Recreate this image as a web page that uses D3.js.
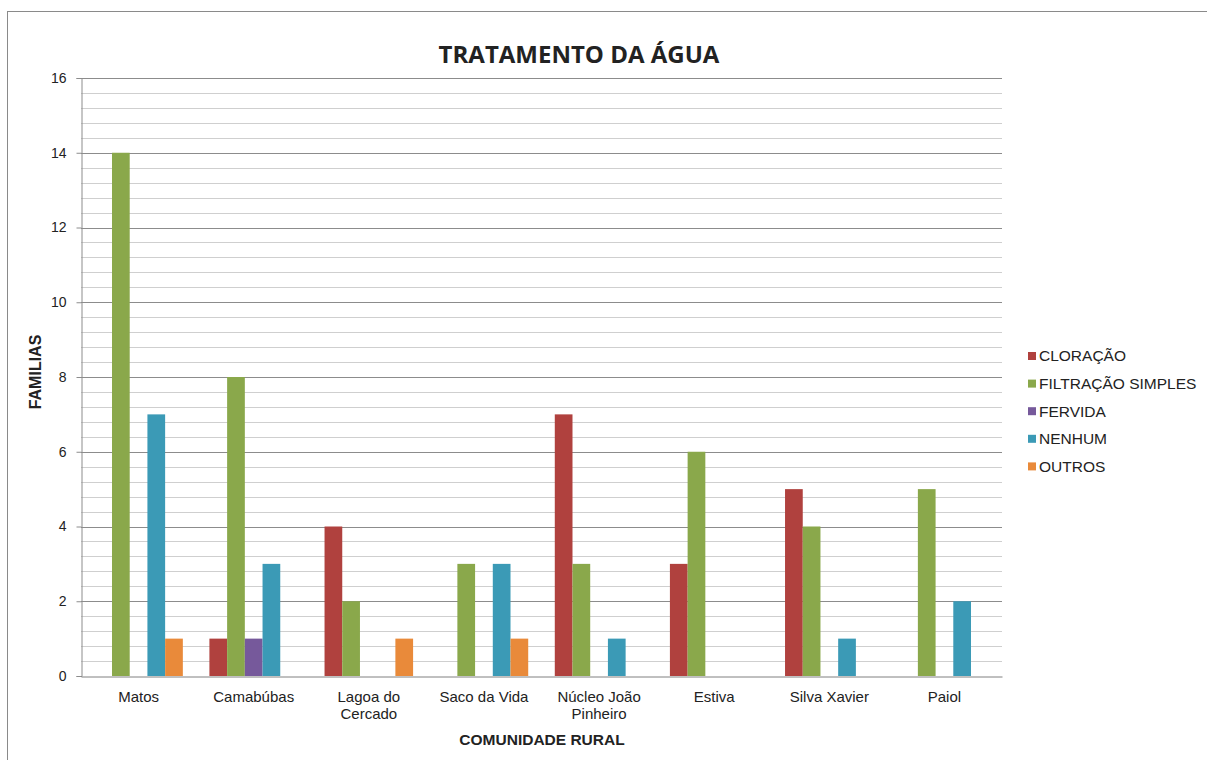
<!DOCTYPE html>
<html>
<head>
<meta charset="utf-8">
<script src="https://cdn.jsdelivr.net/npm/d3@7"></script>
<style>
  html, body { margin: 0; padding: 0; background: #fff; }
  svg { display: block; }
  text { font-family: "Liberation Sans", Arial, sans-serif; fill: #222; }
</style>
</head>
<body>
<svg id="chart" width="1207" height="760"></svg>
<script>
// Communities surveyed (x axis)
const categories = ["Matos", "Camabúbas", "Lagoa do Cercado", "Saco da Vida",
                    "Núcleo João Pinheiro", "Estiva", "Silva Xavier", "Paiol"];

// Water treatment methods (series)
const seriesNames = ["CLORAÇÃO", "FILTRAÇÃO SIMPLES", "FERVIDA", "NENHUM", "OUTROS"];
const seriesColors = ["#b0413e", "#8aa84b", "#76599b", "#3b9ab6", "#e98a3a"];

// Number of families per community, one array per method
const cloracao   = [0, 1, 4, 0, 7, 3, 5, 0];
const filtracao  = [14, 8, 2, 3, 3, 6, 4, 5];
const fervida    = [0, 1, 0, 0, 0, 0, 0, 0];
const nenhum     = [7, 3, 0, 3, 1, 0, 1, 2];
const outros     = [1, 0, 1, 1, 0, 0, 0, 0];
const seriesValues = [cloracao, filtracao, fervida, nenhum, outros];

const yTicks = [0, 2, 4, 6, 8, 10, 12, 14, 16];

const svg = d3.select("#chart");
const W = 1207, H = 760;
const plot = { left: 81, right: 1002, top: 78, bottom: 676 };

// outer frame
svg.append("rect")
  .attr("x", 7.5).attr("y", 11.5)
  .attr("width", W + 10).attr("height", H + 10)
  .attr("fill", "#fff").attr("stroke", "#8a8a8a").attr("stroke-width", 1);

const x0 = d3.scaleBand().domain(categories)
  .range([plot.left, plot.right]).paddingInner(0).paddingOuter(0);
// Bars occupy 5/6.5 of each band, centered
const barW = x0.bandwidth() / 6.5;
const x1 = d3.scaleBand().domain(seriesNames)
  .range([0, barW * 5]).padding(0);
const groupOffset = (x0.bandwidth() - barW * 5) / 2;

const y = d3.scaleLinear().domain([0, 16]).range([plot.bottom, plot.top]);

// minor gridlines every 0.4
const minor = d3.range(0, 16.0001, 0.4).filter(v => Math.abs(v / 2 - Math.round(v / 2)) > 1e-6);
svg.append("g").selectAll("line").data(minor).join("line")
  .attr("x1", plot.left).attr("x2", plot.right)
  .attr("y1", d => Math.round(y(d)) + 0.5).attr("y2", d => Math.round(y(d)) + 0.5)
  .attr("stroke", "#cfcfcf").attr("stroke-width", 1);

// major gridlines
svg.append("g").selectAll("line").data(yTicks.filter(d => d > 0)).join("line")
  .attr("x1", plot.left).attr("x2", plot.right)
  .attr("y1", d => Math.round(y(d)) + 0.5).attr("y2", d => Math.round(y(d)) + 0.5)
  .attr("stroke", "#8c8c8c").attr("stroke-width", 1);

// y axis
const yAxis = d3.axisLeft(y).tickValues(yTicks).tickSize(5).tickPadding(10).tickFormat(d3.format("d"));
const gy = svg.append("g").attr("transform", `translate(${plot.left + 0.5},0)`).call(yAxis);
gy.select(".domain").attr("stroke", "#8c8c8c");
gy.selectAll(".tick line").attr("stroke", "#8c8c8c");
gy.selectAll(".tick text").style("font-size", "14px").attr("fill", "#222")
  .style("font-family", "'Liberation Sans', Arial, sans-serif");

// bars
const groups = svg.append("g").selectAll("g").data(categories).join("g")
  .attr("transform", d => `translate(${x0(d) + groupOffset},0)`);
groups.selectAll("rect")
  .data((c, i) => seriesNames.map((s, j) => ({ s, j, v: seriesValues[j][i] })))
  .join("rect")
  .attr("x", d => x1(d.s))
  .attr("width", x1.bandwidth())
  .attr("y", d => y(d.v))
  .attr("height", d => y(0) - y(d.v))
  .attr("fill", d => seriesColors[d.j]);

// x axis
const xAxis = d3.axisBottom(x0).tickSize(0).tickPadding(15);
const gx = svg.append("g").attr("transform", `translate(0,${plot.bottom + 0.5})`).call(xAxis);
gx.select(".domain").attr("stroke", "#808080");
gx.selectAll(".tick text").style("font-size", "15px").attr("fill", "#222")
  .style("font-family", "'Liberation Sans', Arial, sans-serif")
  .each(function (d) {
    const t = d3.select(this);
    t.text(null);
    const words = d.split(" ");
    let lines = [], cur = [];
    words.forEach(w => {
      const trial = cur.concat(w).join(" ");
      t.text(trial);
      if (this.getComputedTextLength() > 105 && cur.length) { lines.push(cur.join(" ")); cur = [w]; }
      else cur.push(w);
    });
    lines.push(cur.join(" "));
    t.text(null);
    lines.forEach((ln, k) => {
      t.append("tspan").attr("x", 0).attr("dy", k === 0 ? "0.71em" : "1.15em").text(ln);
    });
  });

// axis titles
svg.append("text").attr("x", 542).attr("y", 745).attr("text-anchor", "middle")
  .style("font-size", "15.5px").style("font-weight", "bold").text("COMUNIDADE RURAL");
svg.append("text").attr("transform", "translate(41,372) rotate(-90)").attr("text-anchor", "middle")
  .style("font-size", "16px").style("font-weight", "bold").text("FAMILIAS");

// chart title
svg.append("text").attr("x", 579).attr("y", 63).attr("text-anchor", "middle")
  .style("font-family", "'Open Sans', sans-serif")
  .style("font-size", "24px").style("font-weight", "bold").attr("fill", "#000")
  .text("TRATAMENTO DA ÁGUA");

// legend
const legend = svg.append("g").attr("transform", "translate(1028,356)");
const li = legend.selectAll("g").data(seriesNames).join("g")
  .attr("transform", (d, i) => `translate(0,${i * 27.6})`);
li.append("rect").attr("x", 0).attr("y", -4).attr("width", 8).attr("height", 8)
  .attr("fill", (d, i) => seriesColors[i]);
li.append("text").attr("x", 11).attr("y", 0).attr("dy", "0.35em")
  .style("font-size", "15.5px").text(d => d);
</script>
</body>
</html>
